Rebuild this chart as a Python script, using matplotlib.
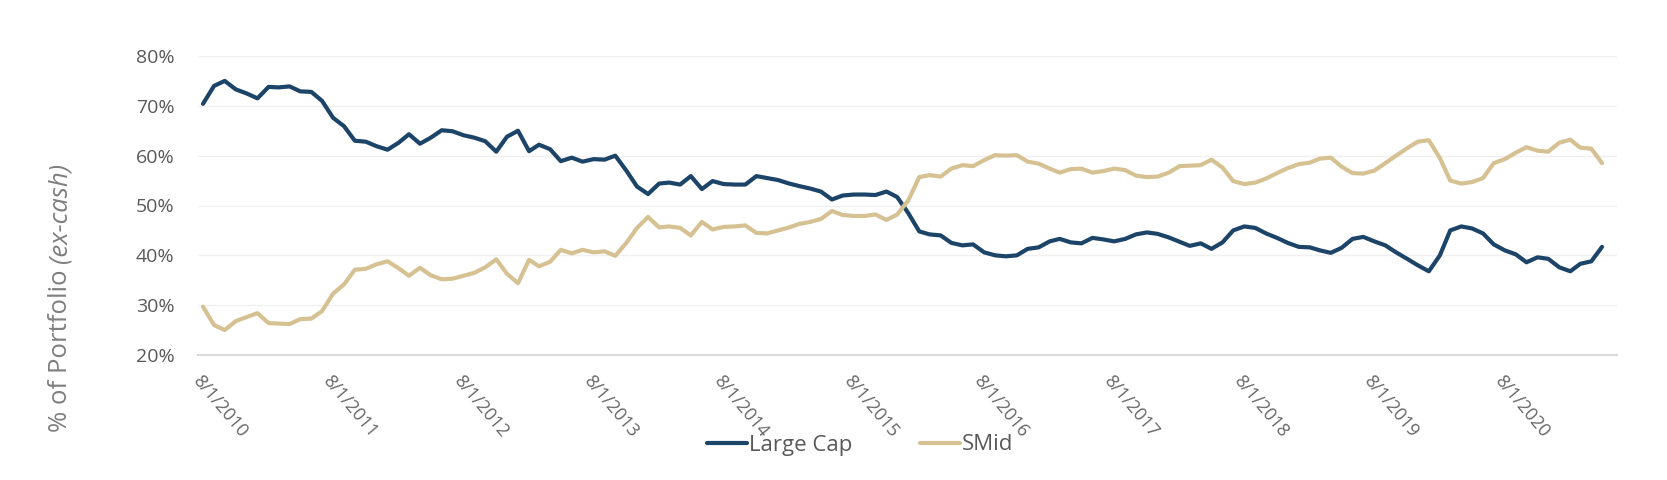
import matplotlib
matplotlib.use('Agg')
import matplotlib.pyplot as plt
import pandas as pd
from matplotlib import rcParams

rcParams.update({
    "font.family": ['Open Sans', 'DejaVu Sans'],
    "font.size": 14,
})

# monthly data, 8/2010 .. 5/2021 (values in % of portfolio ex-cash)
months = pd.date_range('2010-08-01', periods=130, freq='MS')

large_cap = [70.4, 74.0, 75.0, 73.3, 72.5, 71.5, 73.8, 73.7, 73.9, 72.9,
             72.8, 71.0, 67.6, 65.9, 63.0, 62.8, 61.9, 61.2, 62.6, 64.3,
             62.4, 63.6, 65.1, 64.9, 64.1, 63.6, 62.9, 60.8, 63.8, 65.0,
             60.9, 62.2, 61.3, 58.9, 59.6, 58.8, 59.3, 59.2, 60.0, 57.0,
             53.8, 52.3, 54.4, 54.6, 54.2, 55.9, 53.3, 54.9, 54.3, 54.2,
             54.2, 55.9, 55.5, 55.1, 54.4, 53.9, 53.4, 52.8, 51.2, 52.0,
             52.2, 52.2, 52.1, 52.8, 51.7, 48.5, 44.8, 44.2, 44.0, 42.5,
             42.0, 42.2, 40.6, 40.0, 39.8, 40.0, 41.3, 41.6, 42.8, 43.3,
             42.6, 42.4, 43.5, 43.2, 42.8, 43.3, 44.2, 44.6, 44.3, 43.6,
             42.7, 41.9, 42.4, 41.3, 42.6, 45.0, 45.8, 45.5, 44.4, 43.5,
             42.5, 41.7, 41.6, 41.0, 40.5, 41.5, 43.3, 43.7, 42.8, 42.0,
             40.6, 39.3, 38.0, 36.8, 40.0, 45.0, 45.8, 45.4, 44.4, 42.2,
             41.0, 40.2, 38.6, 39.6, 39.3, 37.6, 36.8, 38.3, 38.8, 41.7]

smid = [29.7, 26.0, 25.0, 26.8, 27.6, 28.4, 26.4, 26.3, 26.2, 27.2,
        27.3, 28.8, 32.3, 34.2, 37.1, 37.3, 38.2, 38.8, 37.4, 35.9,
        37.5, 36.0, 35.2, 35.3, 35.9, 36.5, 37.6, 39.2, 36.3, 34.4,
        39.1, 37.8, 38.7, 41.1, 40.4, 41.1, 40.6, 40.8, 39.9, 42.5,
        45.5, 47.7, 45.6, 45.8, 45.5, 44.0, 46.7, 45.2, 45.7, 45.8,
        46.0, 44.5, 44.4, 45.0, 45.6, 46.3, 46.7, 47.3, 48.9, 48.1,
        47.9, 47.9, 48.2, 47.1, 48.2, 51.0, 55.7, 56.1, 55.8, 57.4,
        58.1, 57.9, 59.1, 60.1, 60.0, 60.1, 58.8, 58.4, 57.4, 56.6,
        57.3, 57.4, 56.6, 56.9, 57.4, 57.1, 56.0, 55.7, 55.8, 56.6,
        57.9, 58.0, 58.1, 59.2, 57.6, 54.9, 54.3, 54.6, 55.4, 56.5,
        57.5, 58.3, 58.6, 59.4, 59.6, 57.8, 56.5, 56.4, 57.0, 58.5,
        60.0, 61.5, 62.8, 63.1, 59.5, 55.0, 54.4, 54.7, 55.5, 58.5,
        59.3, 60.6, 61.7, 61.0, 60.8, 62.6, 63.2, 61.6, 61.4, 58.5]

tick_dates = pd.date_range('2010-08-01', '2020-08-01', freq='12MS')
tick_labels = ['%d/%d/%d' % (d.month, d.day, d.year) for d in tick_dates]

fig = plt.figure(figsize=(16.67, 4.8), dpi=100)
ax = fig.add_axes([198/1667, 1-355/480, (1617-198)/1667, (355-56)/480])

ax.plot(months, large_cap, c='#1c4468', lw=3, label='Large Cap', solid_capstyle='round')
ax.plot(months, smid, c='#d6c193', lw=3, label='SMid', solid_capstyle='round')

ax.set_ylim(20, 80)
ax.set_yticks(range(20, 81, 10))
ax.set_yticklabels(['%d%%' % v for v in range(20, 81, 10)])
ax.set_xlim(months[0] - pd.Timedelta(days=14), months[-1] + pd.Timedelta(days=42))
ax.set_xticks(tick_dates)
ax.set_xticklabels(tick_labels, rotation=-50, ha='left', va='top', rotation_mode='anchor')

ax.grid(axis='y', color='#f0f0f0', lw=1)
ax.set_axisbelow(True)
for s in ['top', 'right', 'left']:
    ax.spines[s].set_visible(False)
ax.spines['bottom'].set_color('#d9d9d9')
ax.spines['bottom'].set_linewidth(1.5)
ax.tick_params(axis='y', length=0, pad=17, labelsize=14, labelcolor='#595959')
ax.tick_params(axis='x', length=0, pad=12, labelsize=13, labelcolor='#666666')

leg = fig.legend(loc='center', bbox_to_anchor=(0.516, 1-445/480), ncol=2, frameon=False,
                 fontsize=16, handlelength=1.8, handletextpad=0.1, columnspacing=3.0,
                 labelcolor='#595959')

# y label, part in italic
fig.canvas.draw()
r = fig.canvas.get_renderer()
t1 = fig.text(0.036, 0.1, '% of Portfolio ', rotation=90, ha='center', va='bottom',
              fontsize=18.5, color='#7f7f7f')
bb = t1.get_window_extent(r)
fig.text(0.036, bb.y1/fig.bbox.height, '(ex-cash)', rotation=90, ha='center', va='bottom',
         fontsize=18.5, color='#7f7f7f', style='italic')

plt.savefig('out.png', dpi=100)
